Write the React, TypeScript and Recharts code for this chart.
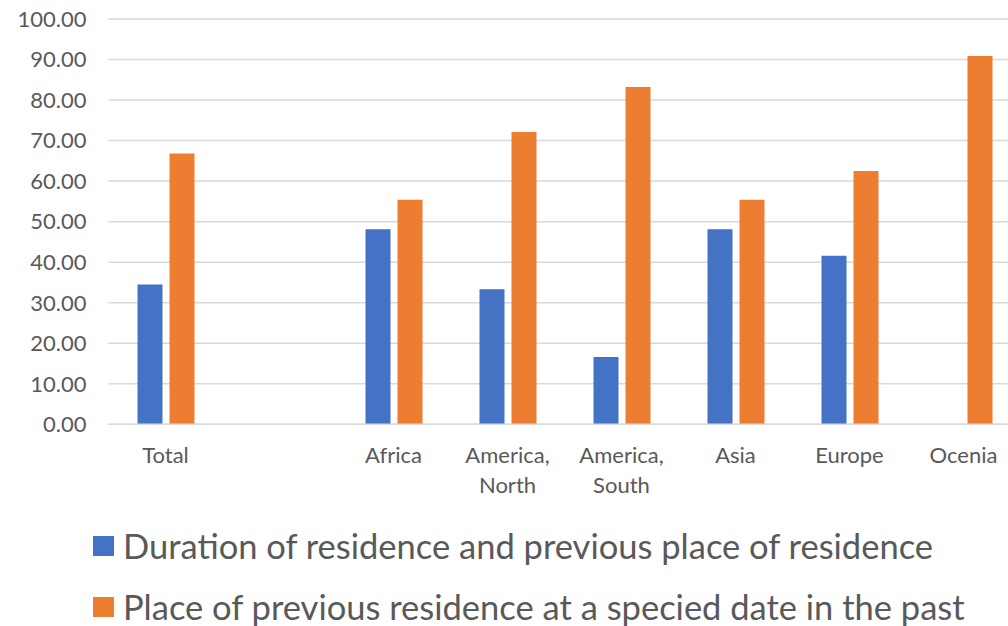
import React from 'react';
import { BarChart, Bar, XAxis, YAxis, CartesianGrid, Legend } from 'recharts';

// Regions shown along the category axis (the empty slot is a spacer column)
const categories: string[] = ['Total', '', 'Africa', 'America,\nNorth', 'America,\nSouth', 'Asia', 'Europe', 'Ocenia'];

// Percent values per region
const durationValues: (number | null)[] = [34.5, null, 48.1, 33.3, 16.6, 48.1, 41.6, 0];
const previousValues: (number | null)[] = [66.8, null, 55.4, 72.1, 83.2, 55.4, 62.5, 90.9];

const yTicks: number[] = [0, 10, 20, 30, 40, 50, 60, 70, 80, 90, 100];

const seriesNames = {
  duration: 'Duration of residence and previous place of residence',
  previous: 'Place of previous residence at a specied date in the past',
};

const BLUE = '#4472C4';
const ORANGE = '#ED7D31';
const TEXT = '#595959';
const GRID = '#D9D9D9';
const FONT = 'Lato, "Noto Sans", sans-serif';

const data = categories.map((name, i) => ({
  name,
  duration: durationValues[i],
  previous: previousValues[i],
}));

const CategoryTick = (props: any) => {
  const { x, y, payload } = props;
  const lines = String(payload.value).split('\n');
  return (
    <text x={x} y={y} textAnchor="middle" fill={TEXT} fontSize={22} fontFamily={FONT}>
      {lines.map((line, i) => (
        <tspan key={i} x={x} dy={i === 0 ? 39 : 30}>
          {line}
        </tspan>
      ))}
    </text>
  );
};

const LegendContent = () => {
  const items = [
    { label: seriesNames.duration, color: BLUE },
    { label: seriesNames.previous, color: ORANGE },
  ];
  return (
    <div style={{ position: 'relative', width: 920, height: 100 }}>
      {items.map((it, i) => (
        <div
          key={i}
          style={{
            position: 'absolute',
            left: 0,
            top: i * 60.5,
            display: 'flex',
            alignItems: 'center',
            height: 20,
            whiteSpace: 'nowrap',
          }}
        >
          <div style={{ width: 21, height: 20, background: it.color, flex: 'none' }} />
          <span
            style={{
              marginLeft: 9,
              fontFamily: FONT,
              fontSize: 34.5,
              color: TEXT,
              lineHeight: '20px',
            }}
          >
            {it.label}
          </span>
        </div>
      ))}
    </div>
  );
};

export default function App() {
  return (
    <div
      style={{
        position: 'absolute',
        left: 0,
        top: 0,
        width: 1008,
        height: 626,
        overflow: 'hidden',
        background: '#fff',
      }}
    >
      <BarChart
        width={1030}
        height={626}
        data={data}
        margin={{ top: 19, right: 9.5, bottom: 0, left: 0 }}
        barSize={25}
        barGap={7}
      >
        <CartesianGrid horizontal vertical={false} stroke={GRID} strokeWidth={1.5} />
        <XAxis
          dataKey="name"
          axisLine={{ stroke: GRID, strokeWidth: 1.5 }}
          tickLine={false}
          tickSize={0}
          tickMargin={0}
          interval={0}
          height={201.7}
          tick={<CategoryTick />}
        />
        <YAxis
          domain={[0, 100]}
          ticks={yTicks}
          width={108.5}
          axisLine={false}
          tickLine={false}
          tickSize={0}
          tickMargin={22}
          interval={0}
          tickFormatter={(v: number) => v.toFixed(2)}
          tick={{ fill: TEXT, fontSize: 22, fontFamily: FONT }}
        />
        <Legend
          layout="vertical"
          align="center"
          verticalAlign="middle"
          content={<LegendContent />}
          wrapperStyle={{ top: 536, left: 93, bottom: 'auto', width: 920 }}
        />
        <Bar dataKey="duration" name={seriesNames.duration} fill={BLUE} isAnimationActive={false} />
        <Bar dataKey="previous" name={seriesNames.previous} fill={ORANGE} isAnimationActive={false} />
      </BarChart>
    </div>
  );
}
